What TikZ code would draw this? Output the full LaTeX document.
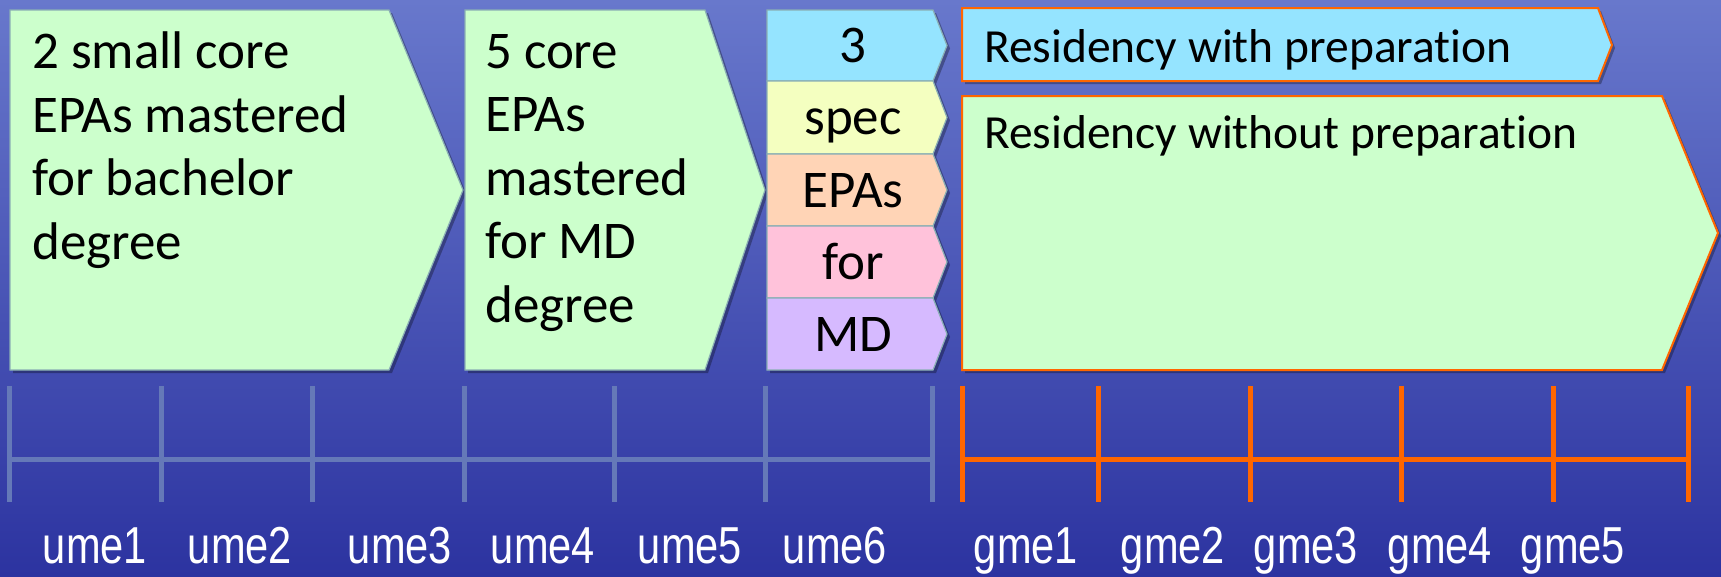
\documentclass[tikz,border=0pt]{standalone}
\usepackage{fontspec}
\setmainfont[Ligatures=NoCommon]{Carlito}
\newfontfamily\tickfont[FakeStretch=0.8]{Liberation Sans}
\usepackage{tikz}
\usetikzlibrary{shadows}
\definecolor{bgtop}{HTML}{6878CC}
\definecolor{bgbot}{HTML}{2C33A0}
\definecolor{epagreen}{HTML}{CCFFCC}
\definecolor{epablue}{HTML}{95E4FF}
\definecolor{epayellow}{HTML}{F4FFC0}
\definecolor{epapeach}{HTML}{FFD4B6}
\definecolor{epapink}{HTML}{FFC2DA}
\definecolor{epalilac}{HTML}{D6BAFF}
\definecolor{edgegray}{HTML}{8AAFB4}
\definecolor{resorange}{HTML}{FF6600}
\definecolor{umegray}{HTML}{6579B8}

\begin{document}
\begin{tikzpicture}[x=1pt, y=-1pt,
    epashape/.style={draw=edgegray, line width=1.2pt,
        drop shadow={shadow xshift=3pt, shadow yshift=-3pt, opacity=0.3, fill=black}},
    resshape/.style={draw=resorange, line width=2pt,
        drop shadow={shadow xshift=3pt, shadow yshift=-3pt, opacity=0.3, fill=black}},
    boxtext/.style={font=\fontsize{53}{63.5}\selectfont, align=left, anchor=base west, inner sep=0pt},
    stacktext/.style={font=\fontsize{53}{60}\selectfont, anchor=base, inner sep=0pt},
    restext/.style={font=\fontsize{47.5}{56}\selectfont, anchor=base west, inner sep=0pt},
    ticklabel/.style={font=\tickfont\fontsize{52}{60}\selectfont, text=white, anchor=base, inner sep=0pt},
    umeline/.style={umegray, line width=5pt},
    gmeline/.style={resorange, line width=5pt}]
    % background
    \useasboundingbox (0,0) rectangle (1721,576);
    \fill[top color=bgtop, bottom color=bgbot] (0,0) rectangle (1721,576);

    % core EPA arrows (text anchored on its last line)
    \draw[epashape, fill=epagreen] (10,10) -- (389,10) -- (463,190) -- (389,370) -- (10,370) -- cycle;
    \node[boxtext] (bachelor) at (32,259) {2 small core\\EPAs mastered\\for bachelor\\degree};
    \draw[epashape, fill=epagreen] (465,10) -- (705,10) -- (765,190) -- (705,370) -- (465,370) -- cycle;
    \node[boxtext] (mddegree) at (485,322) {5 core\\EPAs\\mastered\\for MD\\degree};

    % specialty EPA stack
    \foreach \top/\bot/\col/\txt [count=\i] in {10/81/epablue/3, 81/154/epayellow/spec,
        154/226/epapeach/EPAs, 226/298/epapink/for, 298/370/epalilac/MD} {
        \draw[epashape, fill=\col] (767,\top) -- (933,\top) -- (947,{(\top+\bot)/2})
            -- (933,\bot) -- (767,\bot) -- cycle;
        \node[stacktext] (spec\i) at (853,{(\top+\bot)/2+17}) {\txt};
    }

    % residency
    \draw[resshape, fill=epablue] (962,8) -- (1598,8) -- (1612,45) -- (1598,81) -- (962,81) -- cycle;
    \node[restext] (withprep) at (984,62) {Residency with preparation};
    \draw[resshape, fill=epagreen] (962,96) -- (1662,96) -- (1718,233) -- (1662,370) -- (962,370) -- cycle;
    \node[restext] (withoutprep) at (984,148) {Residency without preparation};

    % timelines
    \draw[umeline] (9,459) -- (932,459);
    \foreach \x in {9,161,312,464,614,765,932}
        \draw[umeline] (\x,386) -- (\x,502);
    \draw[gmeline] (962,459) -- (1688,459);
    \foreach \x in {962,1098,1250,1401,1553,1688}
        \draw[gmeline] (\x,386) -- (\x,502);

    % year labels
    \foreach \x [count=\i] in {95,240,400,543,690,835}
        \node[ticklabel] (ume\i) at (\x,563) {ume\i};
    \foreach \x [count=\i] in {1026,1173,1306,1440,1573}
        \node[ticklabel] (gme\i) at (\x,563) {gme\i};
\end{tikzpicture}
\end{document}
